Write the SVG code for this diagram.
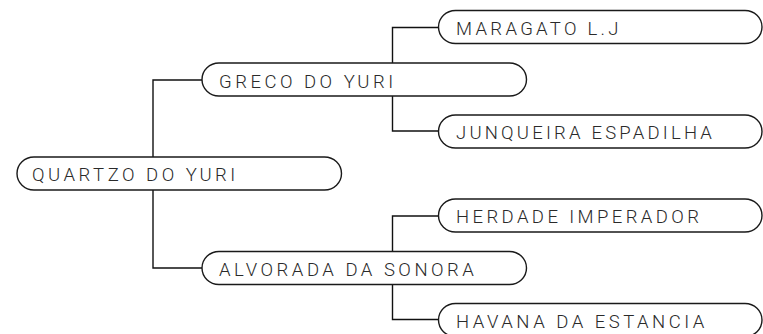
<svg xmlns="http://www.w3.org/2000/svg" width="763" height="334" viewBox="0 0 763 334">
<style>
.pill{fill:#fff;stroke:#1a1a1a;stroke-width:1.4}
.lbl{font-family:Roboto,"Liberation Sans",Arial,sans-serif;font-weight:300;font-size:18.5px;letter-spacing:3.5px;fill:#2a2a2a}
.con{fill:none;stroke:#111;stroke-width:1.4}
</style>
<rect width="763" height="334" fill="#fff"/>
<g id="connectors">
<path class="con" d="M153 157 V80 H202"/>
<path class="con" d="M153 190 V268 H202"/>
<path class="con" d="M392.5 63 V27.5 H438.5"/>
<path class="con" d="M392.5 96 V131 H438.5"/>
<path class="con" d="M392.5 251.5 V216 H438.5"/>
<path class="con" d="M392.5 284.5 V319.5 H438.5"/>
</g>
<g id="n-quartzo">
<rect class="pill" x="17" y="157" width="324.5" height="33" rx="17" ry="16.5"/>
<text class="lbl" x="32" y="180.5">QUARTZO DO YURI</text>
</g>
<g id="n-greco">
<rect class="pill" x="202" y="63" width="324.5" height="33" rx="17" ry="16.5"/>
<text class="lbl" x="219" y="87.5">GRECO DO YURI</text>
</g>
<g id="n-alvorada">
<rect class="pill" x="202" y="251.5" width="324.5" height="33" rx="17" ry="16.5"/>
<text class="lbl" x="219" y="275.5">ALVORADA DA SONORA</text>
</g>
<g id="n-maragato">
<rect class="pill" x="438.5" y="10.5" width="323.5" height="33" rx="17" ry="16.5"/>
<text class="lbl" x="456" y="34.5" style="letter-spacing:3.3px">MARAGATO L.J</text>
</g>
<g id="n-junqueira">
<rect class="pill" x="438.5" y="115" width="323.5" height="33" rx="17" ry="16.5"/>
<text class="lbl" x="456" y="139" style="letter-spacing:3.2px">JUNQUEIRA ESPADILHA</text>
</g>
<g id="n-herdade">
<rect class="pill" x="438.5" y="199" width="323.5" height="33" rx="17" ry="16.5"/>
<text class="lbl" x="456" y="223" style="letter-spacing:3.4px">HERDADE IMPERADOR</text>
</g>
<g id="n-havana">
<rect class="pill" x="438.5" y="303.5" width="323.5" height="33" rx="17" ry="16.5"/>
<text class="lbl" x="456" y="327.5">HAVANA DA ESTANCIA</text>
</g>
</svg>
